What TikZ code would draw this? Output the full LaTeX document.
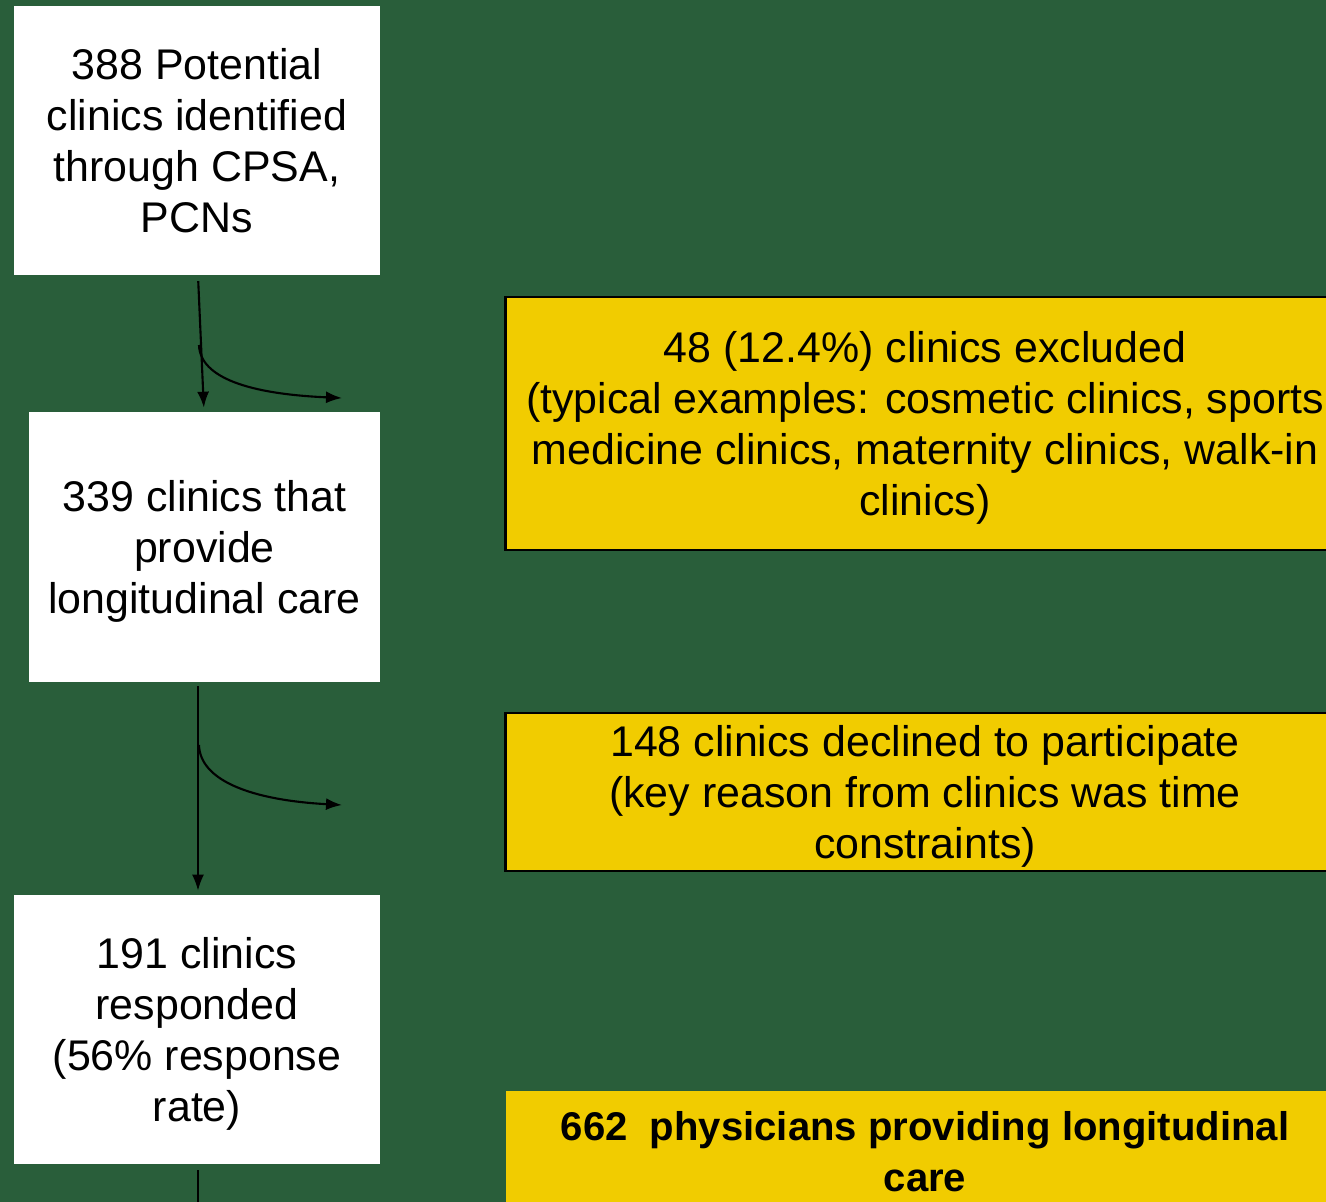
\documentclass[tikz,border=0pt]{standalone}
\usepackage{fontspec}
\setmainfont{Liberation Sans}
\usetikzlibrary{arrows.meta}
\definecolor{bggreen}{RGB}{41,94,58}
\definecolor{boxyellow}{RGB}{241,204,0}
\tikzset{
  whitebox/.style={fill=white, inner sep=0pt, minimum width=3.66cm, minimum height=2.69cm, align=center, text depth=0pt, font=\fontsize{12.2}{14.5}\selectfont},
  ybox/.style={fill=boxyellow, draw=black, line width=0.8pt, inner sep=0pt, minimum width=8.38cm, align=center, font=\fontsize{12.2}{14.5}\selectfont},
  flow/.style={line width=0.6pt, -{Latex[length=1.6mm,width=1.2mm]}},
}
\begin{document}
\begin{tikzpicture}[x=0.01cm, y=-0.01cm]
\fill[bggreen] (0,0) rectangle (1326,1202);
\useasboundingbox (0,0) rectangle (1326,1202);
\clip (0,0) rectangle (1326,1202);
\node[whitebox] (identified) at (197,140.5) {388 Potential\\clinics identified\\through CPSA,\\PCNs};
\node[whitebox, minimum width=3.51cm, minimum height=2.70cm] (longitudinal) at (204.5,547) {339 clinics that\\provide\\longitudinal care};
\node[whitebox] (responded) at (197,1029.5) {191 clinics\\responded\\(56\% response\\rate)};
\node[ybox, text depth=0pt, minimum height=2.53cm] (excluded) at (925,423.5) {48 (12.4\%) clinics excluded\\(typical examples: cosmetic clinics, sports\\medicine clinics, maternity clinics, walk-in\\clinics)};
\node[ybox, text depth=0pt, minimum height=1.58cm] (declined) at (925,792) {148 clinics declined to participate\\(key reason from clinics was time\\constraints)};
\node[ybox, draw=none, minimum height=1.21cm, font=\fontsize{11.4}{14.5}\selectfont\bfseries] (physicians) at (925,1151.5) {662\ \ physicians providing longitudinal\\care};
\coordinate (split1) at (199,345);
\coordinate (out1) at (342,398);
\coordinate (split2) at (199,745);
\coordinate (out2) at (342,805);
\coordinate (bottom) at (198,1230);
\draw[flow, shorten <=1.5pt, shorten >=1pt] (identified.south -| 198,0) -- (longitudinal.north -| 204,0);
\draw[flow] (split1) .. controls (200,378) and (250,394) .. (out1);
\draw[flow, shorten <=1pt, shorten >=1pt] (longitudinal.south -| 198,0) -- (responded.north -| 198,0);
\draw[flow] (split2) .. controls (200,780) and (250,800) .. (out2);
\draw[line width=0.6pt, shorten <=1.5pt] (responded.south -| 198,0) -- (bottom);
\end{tikzpicture}
\end{document}
